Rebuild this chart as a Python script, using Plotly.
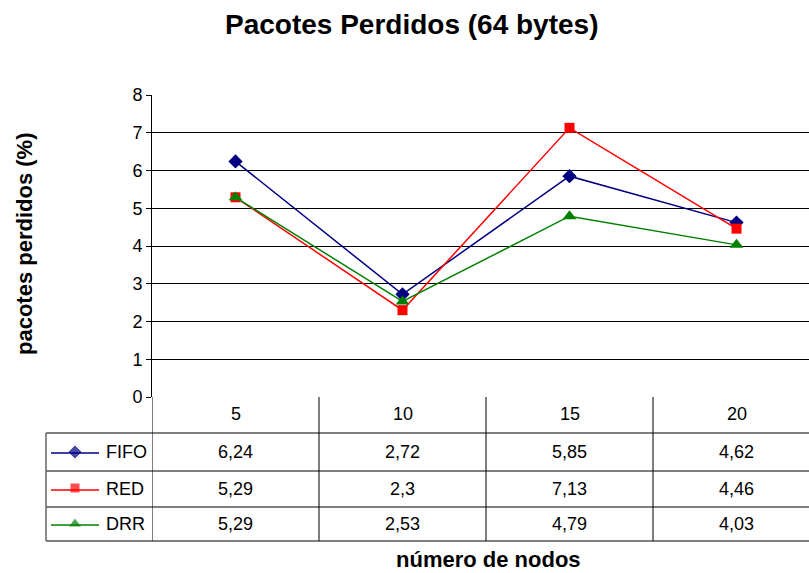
"""
Pacotes perdidos (64 bytes) - line chart with an Excel-style data table below.
"""

import plotly.graph_objects as go

categorias = ["5", "10", "15", "20"]
series = ["FIFO", "RED", "DRR"]
fifo = [6.24, 2.72, 5.85, 4.62]
red = [5.29, 2.3, 7.13, 4.46]
drr = [5.29, 2.53, 4.79, 4.03]
y_ticks = [0, 1, 2, 3, 4, 5, 6, 7, 8]

W, H = 809, 573
FONT = "Liberation Sans, Arial, sans-serif"
cores = {"FIFO": "#000080", "RED": "#FF0000", "DRR": "#008000"}
simbolos = {"FIFO": "diamond", "RED": "square", "DRR": "triangle-up"}
tamanhos = {"FIFO": 11, "RED": 10, "DRR": 12}
valores = {"FIFO": fifo, "RED": red, "DRR": drr}
TABLE_FONT = dict(size=18, color="#000")


def px_x(px):
    return px / W


def px_y(py):
    return 1 - py / H


# plot area in pixels: x 152..809, y 95..397; one category is 167 px wide
PLOT_L, PLOT_T, PLOT_B = 152, 95, 397
CAT_W = 167

fig = go.Figure()

xs = list(range(len(categorias)))
for nome in series:
    fig.add_trace(go.Scatter(
        x=xs, y=valores[nome], mode="lines+markers", name=nome,
        line=dict(color=cores[nome], width=1.5),
        marker=dict(symbol=simbolos[nome], size=tamanhos[nome], color=cores[nome]),
        showlegend=False, cliponaxis=False,
    ))

# legend keys in the table's first column (helper axes, one row per series)
fig.add_trace(go.Scatter(
    x=[0.5] * len(series), y=list(range(len(series))), mode="markers",
    marker=dict(symbol=[simbolos[s] for s in series],
                size=[tamanhos[s] for s in series],
                color=[cores[s] for s in series]),
    xaxis="x2", yaxis="y2", showlegend=False, hoverinfo="skip",
))

row_lines = [433, 471, 507, 541]
row_centers = [452, 489, 524]
line_style = dict(color="#000000", width=1)
shapes = []
for py in row_lines:
    shapes.append(dict(type="line", xref="paper", yref="paper",
                       x0=px_x(46), x1=1, y0=px_y(py), y1=px_y(py), line=line_style))
shapes.append(dict(type="line", xref="paper", yref="paper",
                   x0=px_x(46), x1=px_x(46), y0=px_y(433), y1=px_y(541),
                   line=dict(color="#666666", width=1.5)))
for xv in [-0.5, 0.5, 1.5, 2.5]:
    shapes.append(dict(type="line", xref="x", yref="paper",
                       x0=xv, x1=xv, y0=px_y(PLOT_B), y1=px_y(541), line=line_style))
for r, nome in enumerate(series):
    shapes.append(dict(type="line", xref="paper", yref="paper",
                       x0=px_x(51), x1=px_x(99),
                       y0=px_y(row_centers[r] + 1), y1=px_y(row_centers[r] + 1),
                       line=dict(color=cores[nome], width=1.5)))

annotations = []
for i, c in enumerate(categorias):
    annotations.append(dict(x=i, y=px_y(414), xref="x", yref="paper", text=c,
                            xanchor="center", yanchor="middle",
                            showarrow=False, font=TABLE_FONT))
for r, nome in enumerate(series):
    for i, v in enumerate(valores[nome]):
        annotations.append(dict(x=i, y=px_y(row_centers[r]), xref="x", yref="paper",
                                text=str(v).replace(".", ","), showarrow=False,
                                xanchor="center", yanchor="middle", font=TABLE_FONT))
    annotations.append(dict(x=px_x(104), y=px_y(row_centers[r]), xref="paper",
                            yref="paper", text=nome, showarrow=False,
                            xanchor="left", yanchor="middle", font=TABLE_FONT))

annotations.append(dict(x=px_x(411), y=px_y(24), xref="paper", yref="paper",
                        text="<b>Pacotes Perdidos (64 bytes)</b>", showarrow=False,
                        xanchor="center", yanchor="middle",
                        font=dict(size=28, color="#000")))
annotations.append(dict(x=px_x(489), y=px_y(559), xref="paper", yref="paper",
                        text="<b>número de nodos</b>", showarrow=False,
                        xanchor="center", yanchor="middle",
                        font=dict(size=22, color="#000")))
annotations.append(dict(x=px_x(25), y=px_y(244), xref="paper", yref="paper",
                        text="<b>pacotes perdidos (%)</b>", showarrow=False,
                        xanchor="center", yanchor="middle",
                        textangle=-90, font=dict(size=22, color="#000")))

fig.update_layout(
    width=W, height=H, autosize=False,
    margin=dict(l=0, r=0, t=0, b=0, pad=0, autoexpand=False),
    paper_bgcolor="white", plot_bgcolor="white",
    font=dict(family=FONT, color="#000"),
    xaxis=dict(domain=[px_x(PLOT_L), 1],
               range=[-0.5, -0.5 + (W - PLOT_L) / CAT_W],
               showticklabels=False, showgrid=False, zeroline=False,
               showline=False, ticks="", automargin=False),
    yaxis=dict(domain=[px_y(PLOT_B), px_y(PLOT_T)], range=[0, 8], tickvals=y_ticks,
               showgrid=True, gridcolor="#000000", gridwidth=1, zeroline=False,
               showline=True, linecolor="#000000", linewidth=1,
               ticks="outside", ticklen=5, tickcolor="#000", automargin=False,
               tickfont=dict(size=18, color="#000")),
    xaxis2=dict(domain=[px_x(51), px_x(99)], range=[0, 1], visible=False,
                anchor="y2", automargin=False),
    yaxis2=dict(domain=[px_y(542), px_y(434)], range=[2.5, -0.5], visible=False,
                anchor="x2", automargin=False),
    shapes=shapes,
    annotations=annotations,
)

# the page's default margins would shift the 809x573 figure inside the window
page_fix = (
    "document.documentElement.style.margin='0';"
    "document.documentElement.style.overflow='hidden';"
    "document.body.style.margin='0';"
    "document.body.style.overflow='hidden';"
)
fig.write_html("out.html", post_script=page_fix,
               config={"displayModeBar": False})
